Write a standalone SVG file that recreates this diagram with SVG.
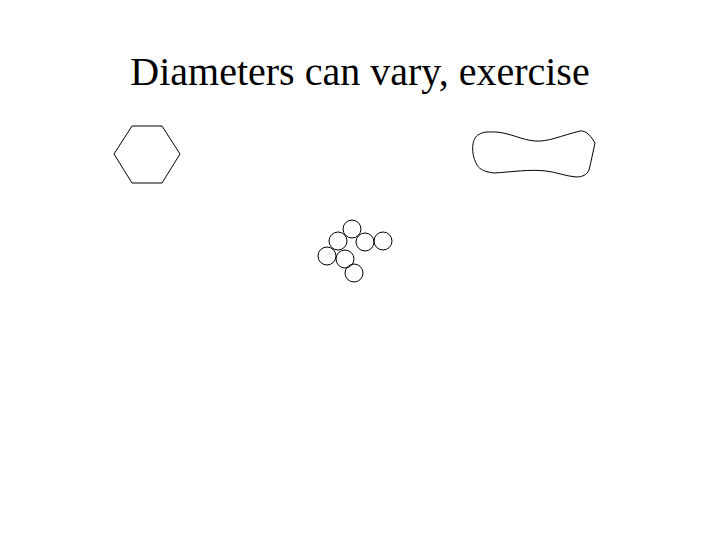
<svg xmlns="http://www.w3.org/2000/svg" width="720" height="540" viewBox="0 0 720 540">
<style>
.s{fill:none;stroke:#000;stroke-width:1}
.t{font-family:"Liberation Serif","Times New Roman",serif;font-size:40px;fill:#000}
</style>
<rect width="720" height="540" fill="#fff"/>
<text class="t" x="360" y="85" text-anchor="middle">Diameters can vary, exercise</text>
<g id="hexagon">
<polygon class="s" points="132,126 162,126 180,154 162,183 132,183 114,154"/>
</g>
<g id="blob">
<path class="s" d="M478,135 C484,131 490,132 496,132 C510,133 522,140 535,141 C548,142 560,136 580,131 C587,130 592,138 595,143 C593,152 591,162 589,170 C587,175 582,177 576,177 C565,176 556,172 546,171 C530,169 512,172 494,173 C486,172 480,170 477,165 C473,158 472,150 473,144 C474,139 476,136 478,135 Z"/>
</g>
<g id="circles">
<circle class="s" cx="352" cy="229" r="9"/>
<circle class="s" cx="338" cy="241" r="9"/>
<circle class="s" cx="365" cy="242" r="9"/>
<circle class="s" cx="383" cy="241" r="9"/>
<circle class="s" cx="327" cy="256" r="9"/>
<circle class="s" cx="345" cy="259" r="9"/>
<circle class="s" cx="354" cy="273" r="9"/>
</g>
</svg>
